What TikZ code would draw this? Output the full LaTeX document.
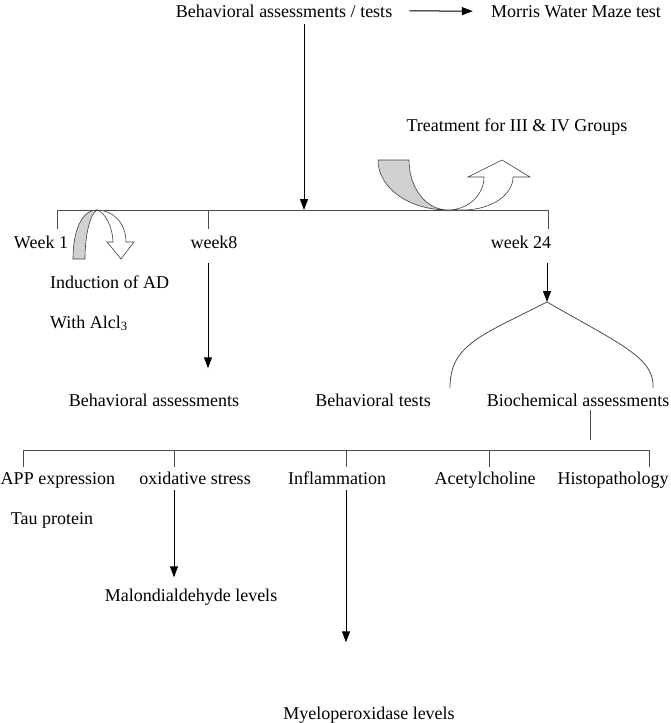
\documentclass[tikz,border=0pt]{standalone}
\usepackage{fontspec}
\setmainfont{Liberation Serif}
\usepackage{tikz}
\usetikzlibrary{arrows.meta,positioning,calc}

\begin{document}
\begin{tikzpicture}[
    x=1pt, y=-1pt,
    font=\fontsize{18}{22}\selectfont,
    lbl/.style={inner sep=0pt, anchor=base},
    tree/.style={draw=black!70, line width=0.8pt},
    arr/.style={-{Triangle[length=11pt,width=8pt]}, line width=1pt},
    backface/.style={draw=black!75, fill=black!18, line width=0.6pt},
    frontface/.style={draw=black!75, fill=white, line width=0.6pt},
    ]
\useasboundingbox (0,0) rectangle (670,723);

% ---- top row ----
\node[lbl] (assess) at (284,17) {Behavioral assessments / tests};
\node[lbl] (morris) at (576,17) {Morris Water Maze test};
\node[lbl] (treat) at (517,131) {Treatment for III \& IV Groups};

% ---- time line ----
\coordinate (hub) at (304,210);
\coordinate (t1) at (57,210);
\coordinate (t8) at (208,210);
\coordinate (t24) at (548,210);
\node[lbl] (wk1) at (41,248) {Week 1};
\node[lbl] (wk8) at (214,248) {week8};
\node[lbl] (wk24) at (521,248) {week 24};
\node[lbl, anchor=base west] (induct) at (50,288) {Induction of AD};
\node[lbl, anchor=base west] (alcl) at (50,328) {With Alcl\textsubscript{3}};

% ---- second level ----
\node[lbl] (behav8) at (154,406) {Behavioral assessments};
\node[lbl] (btests) at (373,406) {Behavioral tests};
\node[lbl] (biochem) at (578,406) {Biochemical assessments};
\coordinate (fork) at (547,302);
\coordinate (forkL) at (450,388);
\coordinate (forkR) at (653,388);
\coordinate (bio) at (590,440);

% ---- biochemical branches ----
\coordinate (bl) at (23,450);
\coordinate (br) at (649,450);
\node[lbl] (app) at (58,484) {APP expression};
\node[lbl] (tau) at (52,524) {Tau protein};
\node[lbl] (oxi) at (195,484) {oxidative stress};
\node[lbl] (infl) at (337,484) {Inflammation};
\node[lbl] (ach) at (485,484) {Acetylcholine};
\node[lbl] (histo) at (613,484) {Histopathology};
\node[lbl] (mda) at (191,601) {Malondialdehyde levels};
\node[lbl] (mpo) at (369,719) {Myeloperoxidase levels};

% ---- edges ----
\draw[arr] ([xshift=17pt]assess.east) -- ([xshift=-18pt]morris.west);
\draw[arr, shorten <=7pt] (assess.south -| hub) -- (hub);
\draw[tree] (t1) -- (t24);
\foreach \t in {t1,t8,t24}
  \draw[tree] (\t) -- ++(0,19);
\draw[arr, shorten <=15pt, shorten >=25pt] (wk8.south -| t8) -- (behav8.north -| t8);
\draw[arr, shorten <=15pt] (wk24.south -| fork) -- (fork);
\draw[tree] (fork) .. controls (480,336) and (450,345) .. (forkL);
\draw[tree] (fork) .. controls (620,344) and (655,358) .. (forkR);
\draw[tree, shorten <=4pt] (biochem.south -| bio) -- (bio);

\draw[tree] (bl) -- (br);
\foreach \x in {23,174,346,489,649}
  \draw[tree] (\x,450) -- (\x,467);
\draw[arr, shorten <=6pt, shorten >=11pt] (oxi.south -| 174,0) -- (mda.north -| 174,0);
\draw[arr, shorten <=6pt, shorten >=64pt] (infl.south -| 346,0) -- (mpo.north -| 346,0);

% treatment arrow on the time line
\draw[backface] (378,160) -- (409,160) .. controls (409,188) and (426,210) .. (448,210)
      .. controls (409,210) and (378,188) .. (378,160) -- cycle;
\draw[frontface] (448,210) .. controls (468,210) and (484,195) .. (484,177)
      -- (468,177) -- (502,160) -- (530,177) -- (513,177)
      .. controls (513,195) and (491,210) .. (463,210) -- cycle;

% induction arrow at week 1
\draw[backface] (73,259) .. controls (73,230) and (82,210) .. (97,210)
      .. controls (90,214) and (85,235) .. (85,259) -- cycle;
\draw[frontface] (97,210) .. controls (105,212) and (113,228) .. (113,242)
      -- (107,242) -- (121,259) -- (134,242) -- (126,242)
      .. controls (126,222) and (112,210) .. (97,210) -- cycle;
\end{tikzpicture}
\end{document}
